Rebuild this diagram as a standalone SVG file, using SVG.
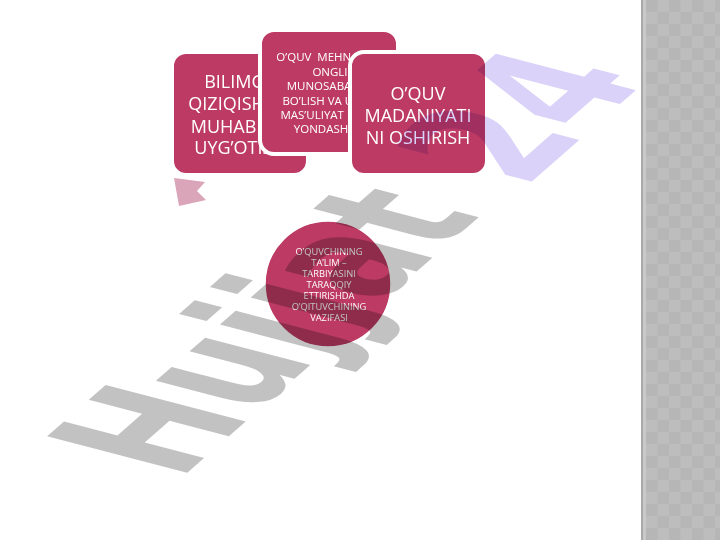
<svg xmlns="http://www.w3.org/2000/svg" width="720" height="540" viewBox="0 0 720 540">
<defs>
<style>
.box{fill:#BC3A64;stroke:#FFFFFF;stroke-width:4}
.big{font-family:"Open Sans","Noto Sans","DejaVu Sans",sans-serif;font-size:18px;fill:#FFFFFF;text-anchor:middle}
.small{font-family:"Open Sans","Noto Sans","DejaVu Sans",sans-serif;font-size:11.5px;fill:#FFFFFF;text-anchor:middle}
.tiny{font-family:"Open Sans","Noto Sans","DejaVu Sans",sans-serif;font-size:9.3px;fill:#FFFFFF;text-anchor:middle}
.wm{font-family:"DejaVu Sans",sans-serif;font-weight:bold;font-size:100px}
</style>
<pattern id="chk" x="646" y="0" width="23" height="24" patternUnits="userSpaceOnUse">
<rect x="0" y="0" width="23" height="24" fill="#BDBDBD"/>
<rect x="0" y="0" width="11.5" height="12" fill="#B6B6B6"/>
<rect x="11.5" y="12" width="11.5" height="12" fill="#B6B6B6"/>
</pattern>
</defs>
<rect x="0" y="0" width="720" height="540" fill="#FFFFFF"/>
<g id="side-panel">
<rect x="641" y="0" width="79" height="540" fill="url(#chk)"/>
<rect x="641" y="0" width="2" height="540" fill="#A9A9A9"/>
<rect x="643" y="0" width="3" height="540" fill="#C9C9C9"/>
</g>
<g id="connectors">
<polygon points="174,178 205,182 197,191 206,200 179,206" fill="#DBA5B9"/>
</g>
<g id="node-1">
<rect class="box" x="172" y="52" width="136" height="123" rx="14"/>
<text class="big" x="240" y="88">BILIMGA</text>
<text class="big" x="240" y="110">QIZIQISH VA</text>
<text class="big" x="240" y="133">MUHABBAT</text>
<text class="big" x="240" y="154">UYG’OTISH</text>
</g>
<g id="node-2">
<rect class="box" x="260" y="30" width="138" height="124" rx="14"/>
<text class="small" x="330" y="61">O’QUV&#160; MEHNATIGA</text>
<text class="small" x="330" y="75.5">ONGLI</text>
<text class="small" x="330" y="90">MUNOSABATDA</text>
<text class="small" x="330" y="104.5">BO’LISH VA UNGA</text>
<text class="small" x="330" y="119">MAS’ULIYAT BILAN</text>
<text class="small" x="330" y="133">YONDASHISH</text>
</g>
<g id="node-3">
<rect class="box" x="350" y="52" width="137" height="123" rx="14"/>
<text class="big" x="418" y="100">O’QUV</text>
<text class="big" x="418" y="122">MADANIYATI</text>
<text class="big" x="418" y="144">NI OSHIRISH</text>
</g>
<g id="node-center">
<circle cx="328" cy="284" r="63" fill="#BC3A64" stroke="#FFFFFF" stroke-width="1.5"/>
<text class="tiny" x="329" y="255">O’QUVCHINING</text>
<text class="tiny" x="329" y="266">TA’LIM –</text>
<text class="tiny" x="329" y="277">TARBIYASINI</text>
<text class="tiny" x="329" y="288">TARAQQIY</text>
<text class="tiny" x="329" y="299">ETTIRISHDA</text>
<text class="tiny" x="329" y="310">O’QITUVCHINING</text>
<text class="tiny" x="329" y="321">VAZIFASI</text>
</g>
<g id="watermark" style="mix-blend-mode:multiply">
<text class="wm" transform="matrix(0.895 -0.785 1.92 0.5 179 480)"><tspan fill="#C2C2C2">Hujjat</tspan><tspan fill="#DAD2F8" dx="2" dy="5"> 24</tspan></text>
</g>
</svg>
